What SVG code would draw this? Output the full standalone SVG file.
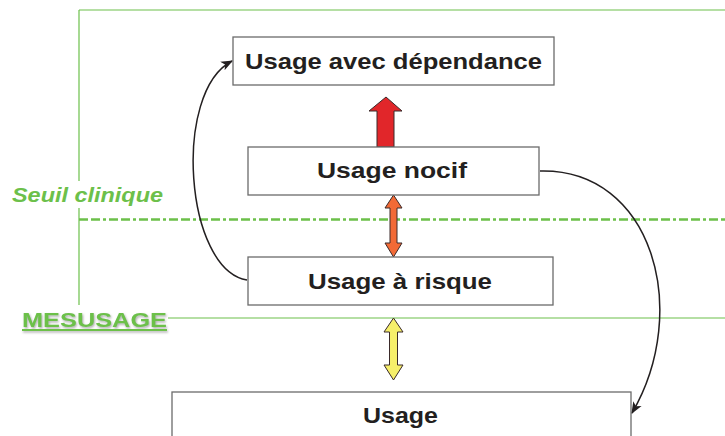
<svg xmlns="http://www.w3.org/2000/svg" width="725" height="436" viewBox="0 0 725 436">
<defs>
<style>
.box{fill:#fff;stroke:#6b6b6b;stroke-width:1.3}
.lbl{font-family:"Liberation Sans",Arial,sans-serif;font-weight:bold;font-size:22px;fill:#231f20}
.grn{stroke:#6cc04a;fill:none}
.conn{fill:none;stroke:#231f20;stroke-width:1.5}
.arr{stroke:#3a2a2a;stroke-width:1}
</style>
<marker id="ah" viewBox="0 0 10 10" refX="9" refY="5" markerWidth="12" markerHeight="12" markerUnits="userSpaceOnUse" orient="auto">
<path d="M0,1 L10,5 L0,9 L2.5,5 Z" fill="#231f20"/>
</marker>
<filter id="sh" x="-5%" y="-20%" width="115%" height="150%">
<feDropShadow dx="1" dy="1.5" stdDeviation="0.8" flood-color="#888" flood-opacity="0.7"/>
</filter>
</defs>
<g id="frame">
<line class="grn" x1="79" y1="10" x2="725" y2="10" stroke-width="1.2"/>
<line class="grn" x1="79" y1="10" x2="79" y2="181" stroke-width="1.2"/>
<line class="grn" x1="79" y1="208" x2="79" y2="305" stroke-width="1.2"/>
<line class="grn" x1="168" y1="318" x2="725" y2="318" stroke-width="1.2"/>
<line class="grn" x1="79" y1="219.5" x2="725" y2="219.5" stroke-width="2.5" stroke-dasharray="9 3 9 3 3 3"/>
</g>
<g id="seuil">
<text x="12" y="202" font-family="Liberation Sans,Arial,sans-serif" font-weight="bold" font-style="italic" font-size="20" fill="#6cc04a" textLength="151" lengthAdjust="spacingAndGlyphs">Seuil clinique</text>
</g>
<g id="mesusage" filter="url(#sh)">
<text x="22" y="327" font-family="Liberation Sans,Arial,sans-serif" font-weight="bold" font-size="20" fill="#6cc04a" textLength="145" lengthAdjust="spacingAndGlyphs">MESUSAGE</text>
<line x1="22" y1="330" x2="167" y2="330" stroke="#6cc04a" stroke-width="2"/>
</g>
<g id="connectors">
<path class="conn" d="M247,280 C185,270 172,92 232,61" marker-end="url(#ah)"/>
<path class="conn" d="M540,171 C652,168 692,310 632,413" marker-end="url(#ah)"/>
<path class="arr" fill="#e1262a" d="M386,97 L402,111 L394,111 L394,147 L377,147 L377,111 L369,111 Z"/>
<path class="arr" fill="#f26a36" d="M393.5,195 L402,208 L397,208 L397,243 L402,243 L393.5,257 L385,243 L390,243 L390,208 L385,208 Z"/>
<path class="arr" fill="#f6ef6a" d="M393.5,318 L403,332 L397.5,332 L397.5,365 L403,365 L393.5,380 L384,365 L389.5,365 L389.5,332 L384,332 Z"/>
</g>
<g id="dependance">
<rect class="box" x="233" y="37" width="321" height="48"/>
<text class="lbl" x="245" y="69" textLength="297" lengthAdjust="spacingAndGlyphs">Usage avec dépendance</text>
</g>
<g id="nocif">
<rect class="box" x="248" y="147" width="291" height="48"/>
<text class="lbl" x="317" y="178" textLength="150" lengthAdjust="spacingAndGlyphs">Usage nocif</text>
</g>
<g id="risque">
<rect class="box" x="248" y="257" width="305" height="48"/>
<text class="lbl" x="308" y="289" textLength="184" lengthAdjust="spacingAndGlyphs">Usage à risque</text>
</g>
<g id="usage">
<rect class="box" x="172" y="392" width="459" height="60"/>
<text class="lbl" x="363" y="423" textLength="75" lengthAdjust="spacingAndGlyphs">Usage</text>
</g>
</svg>
